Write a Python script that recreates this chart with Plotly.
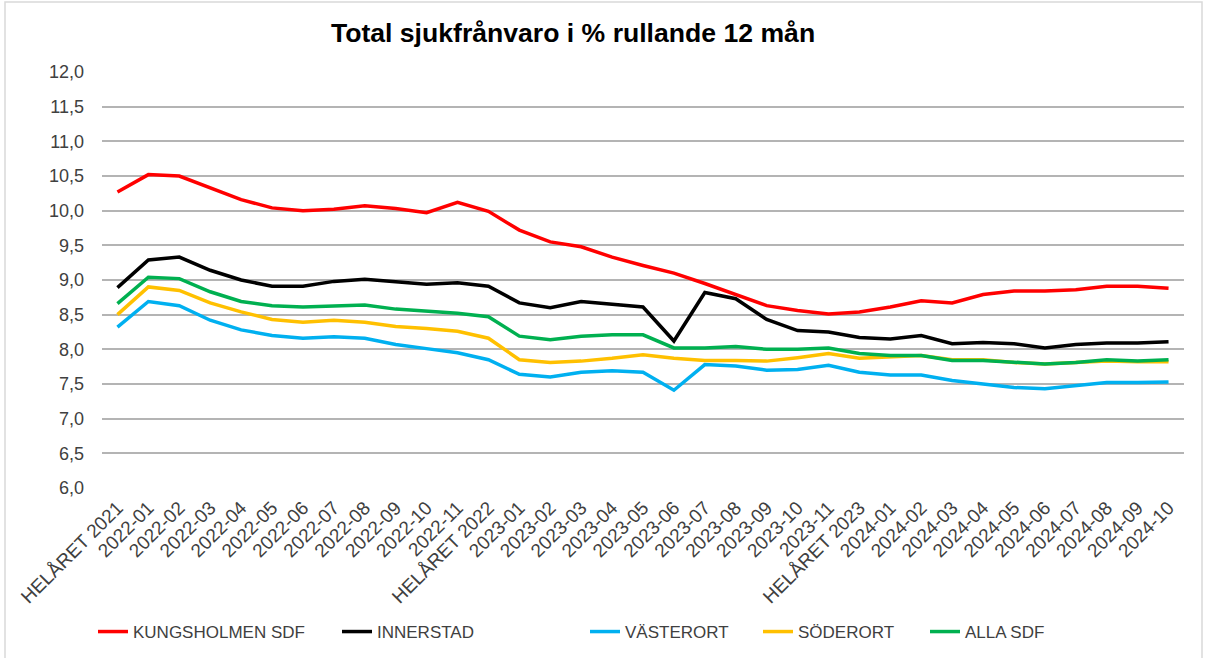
import plotly.graph_objects as go

categories = (["HELÅRET 2021"] + [f"2022-{m:02d}" for m in range(1, 12)] +
              ["HELÅRET 2022"] + [f"2023-{m:02d}" for m in range(1, 12)] +
              ["HELÅRET 2023"] + [f"2024-{m:02d}" for m in range(1, 11)])

kungsholmen = [10.27, 10.52, 10.50, 10.33, 10.16, 10.04, 10.00, 10.02, 10.07, 10.03,
               9.97, 10.12, 9.99, 9.72, 9.55, 9.48, 9.33, 9.21, 9.10, 8.95,
               8.79, 8.63, 8.56, 8.51, 8.54, 8.61, 8.70, 8.67, 8.79, 8.84,
               8.84, 8.86, 8.91, 8.91, 8.88]
innerstad = [8.89, 9.29, 9.33, 9.14, 9.00, 8.91, 8.91, 8.98, 9.01, 8.97,
             8.94, 8.96, 8.91, 8.67, 8.60, 8.69, 8.65, 8.61, 8.12, 8.82,
             8.73, 8.43, 8.27, 8.25, 8.17, 8.15, 8.20, 8.08, 8.10, 8.08,
             8.02, 8.07, 8.09, 8.09, 8.11]
vasterort = [8.32, 8.69, 8.63, 8.42, 8.28, 8.20, 8.16, 8.18, 8.16, 8.07,
             8.01, 7.95, 7.85, 7.64, 7.60, 7.67, 7.69, 7.67, 7.41, 7.78,
             7.76, 7.70, 7.71, 7.77, 7.67, 7.63, 7.63, 7.55, 7.50, 7.45,
             7.43, 7.48, 7.52, 7.52, 7.53]
soderort = [8.50, 8.90, 8.85, 8.67, 8.54, 8.43, 8.39, 8.42, 8.39, 8.33,
            8.30, 8.26, 8.16, 7.85, 7.81, 7.83, 7.87, 7.92, 7.87, 7.84,
            7.84, 7.83, 7.88, 7.94, 7.87, 7.89, 7.91, 7.85, 7.85, 7.81,
            7.79, 7.81, 7.83, 7.82, 7.82]
alla_sdf = [8.66, 9.04, 9.02, 8.83, 8.69, 8.63, 8.61, 8.63, 8.64, 8.58,
            8.55, 8.52, 8.47, 8.19, 8.14, 8.19, 8.21, 8.21, 8.02, 8.02,
            8.04, 8.00, 8.00, 8.02, 7.94, 7.91, 7.91, 7.84, 7.84, 7.81,
            7.79, 7.81, 7.85, 7.83, 7.85]

series_names = ["KUNGSHOLMEN SDF", "INNERSTAD", "VÄSTERORT", "SÖDERORT", "ALLA SDF"]
series_values = [kungsholmen, innerstad, vasterort, soderort, alla_sdf]
series_colors = ["#FF0000", "#000000", "#00B0F0", "#FFC000", "#00B050"]
legend_text_x = [133, 377, 625, 798, 965]  # pixel where each legend label begins

W, H = 1205, 658
L, R, T, B = 102, 21, 72, 170
pw, ph = W - L - R, H - T - B

fig = go.Figure()
legends = {}
for i, (name, vals, color) in enumerate(zip(series_names, series_values, series_colors)):
    key = "legend" if i == 0 else f"legend{i + 1}"
    fig.add_trace(go.Scatter(x=categories, y=vals, mode="lines", name=name,
                             line=dict(color=color, width=3.5), legend=key))
    legends[key] = dict(orientation="h", xref="container", yref="container",
                        x=(legend_text_x[i] - 40) / W, xanchor="left",
                        y=1 - 632 / H, yanchor="middle",
                        font=dict(size=17, color="#404040"),
                        bgcolor="rgba(0,0,0,0)")

fig.update_layout(
    width=W, height=H,
    margin=dict(l=L, r=R, t=T, b=B, autoexpand=False),
    paper_bgcolor="white", plot_bgcolor="white",
    separators=",.",
    font=dict(family="Liberation Sans, Arial, sans-serif", color="#404040"),
    title=dict(text="<b>Total sjukfrånvaro i % rullande 12 mån</b>",
               font=dict(size=26.6, color="#000000"),
               x=573 / W, xanchor="center", xref="container",
               y=1 - 33 / H, yanchor="middle", yref="container"),
    xaxis=dict(type="category", range=[-0.5, len(categories) - 0.5],
               showgrid=False, showline=False, zeroline=False, automargin=False,
               ticks="", tickangle=-45, ticklabelstandoff=4,
               tickfont=dict(size=19, color="#404040")),
    yaxis=dict(range=[6, 12], dtick=0.5, tickformat=".1f", showgrid=True,
               gridcolor="#B4B4B4", gridwidth=1.5, zeroline=False, showline=False,
               automargin=False, ticks="", ticklabelstandoff=17,
               tickfont=dict(size=18, color="#404040")),
    showlegend=True,
    shapes=[dict(type="rect", xref="paper", yref="paper",
                 x0=(5 - L) / pw, x1=(1202 - L) / pw,
                 y0=(H - B - 662) / ph, y1=(H - B - 2) / ph,
                 line=dict(color="#D9D9D9", width=1.5), layer="below")],
)
fig.update_layout(**legends)

fig.write_html("out.html", config={"displayModeBar": False},
               post_script="document.body.style.margin='0px';")
